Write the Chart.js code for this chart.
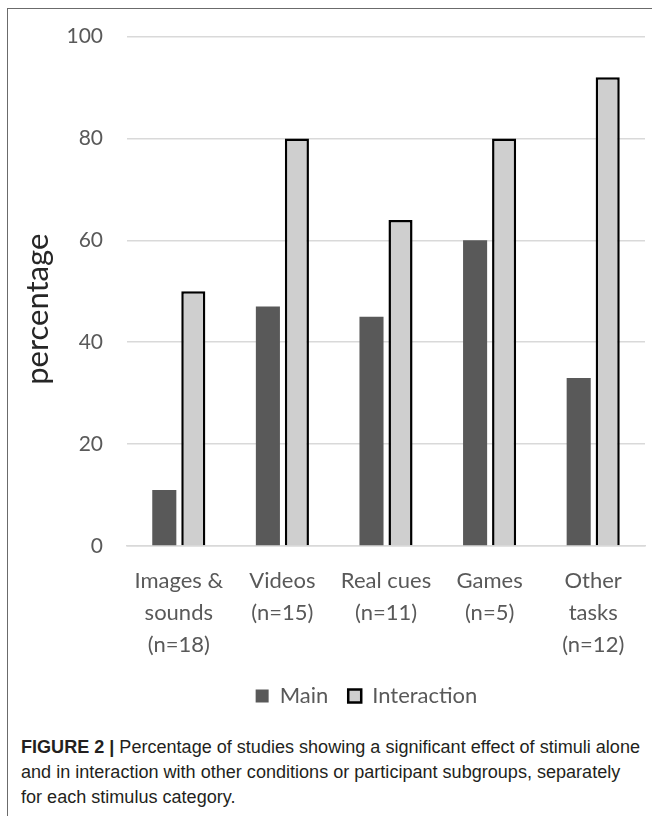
<!DOCTYPE html>
<html>
<head>
<meta charset="utf-8">
<script src="https://cdn.jsdelivr.net/npm/chart.js@4.4.1/dist/chart.umd.min.js"></script>
<style>
  html, body { margin: 0; padding: 0; background: #fff; width: 652px; height: 816px; overflow: hidden; }
  #frame { position: absolute; left: 7px; top: 8px; width: 720px; height: 900px;
           border-left: 1px solid #6b6b6b; border-top: 1px solid #6b6b6b; }
  #chartBox { position: absolute; left: 0; top: 0; width: 652px; height: 720px; }
  #caption { position: absolute; left: 21px; top: 735px; font-family: "Liberation Sans", Arial, sans-serif;
             font-size: 17.5px; line-height: 25px; color: #231f20; white-space: nowrap; transform-origin: 0 0; }
  #caption b { font-weight: bold; }
</style>
</head>
<body>
<div id="frame"></div>
<div id="chartBox"><canvas id="chart" width="652" height="720"></canvas></div>
<div id="caption"><span id="capLine1"><b>FIGURE 2 |</b> Percentage of studies showing a significant effect of stimuli alone</span><br>and in interaction with other conditions or participant subgroups, separately<br>for each stimulus category.</div>

<script>
// Stimulus categories (multi-line axis labels)
const categories = [
  ["Images &", "sounds", "(n=18)"],
  ["Videos", "(n=15)"],
  ["Real cues", "(n=11)"],
  ["Games", "(n=5)"],
  ["Other", "tasks", "(n=12)"]
];
// Percentage of studies with a significant effect
const mainValues = [11, 47, 45, 60, 33];
const interactionValues = [50, 80, 64, 80, 92];
const seriesNames = ["Main", "Interaction"];
const yTickValues = [0, 20, 40, 60, 80, 100];
const yAxisTitle = "percentage";

const labelGrey = "#595959";
const gridGrey = "#d9d9d9";

// Rotated y-axis title, placed a little below the plot's middle
const yTitlePlugin = {
  id: "yTitle",
  afterDraw(chart) {
    const { ctx, chartArea } = chart;
    ctx.save();
    ctx.font = "31px Lato";
    ctx.fillStyle = "#262626";
    ctx.textAlign = "center";
    ctx.textBaseline = "middle";
    ctx.translate(38, (chartArea.top + chartArea.bottom) / 2 + 18);
    ctx.rotate(-Math.PI / 2);
    ctx.fillText(yAxisTitle, 0, 0);
    ctx.restore();
  }
};

// Centre the legend under the bars rather than under the whole canvas
const legendShiftPlugin = {
  id: "legendShift",
  afterLayout(chart) {
    const shift = 44;
    chart.legend.left += shift;
    chart.legend.right += shift;
  }
};

function draw() {
  new Chart(document.getElementById("chart"), {
    type: "bar",
    data: {
      labels: categories,
      datasets: [
        {
          label: seriesNames[0],
          data: mainValues,
          backgroundColor: "#595959",
          borderWidth: 0
        },
        {
          label: seriesNames[1],
          data: interactionValues,
          backgroundColor: "#cfcfcf",
          borderColor: "#000000",
          borderWidth: 2.5
        }
      ]
    },
    options: {
      responsive: false,
      animation: false,
      devicePixelRatio: 1,
      datasets: { bar: { categoryPercentage: 0.56, barPercentage: 0.83 } },
      layout: { padding: { left: 0, right: 7, top: 31, bottom: 3 } },
      scales: {
        x: {
          grid: { display: false, drawTicks: false },
          border: { display: true, color: gridGrey, width: 1.5 },
          ticks: {
            color: labelGrey,
            font: { family: "Lato", size: 22, lineHeight: 1.45 },
            padding: 19,
            maxRotation: 0,
            autoSkip: false
          },
          afterFit(scale) { scale.height = 119; }
        },
        y: {
          min: 0,
          max: 100,
          afterBuildTicks(scale) { scale.ticks = yTickValues.map(v => ({ value: v })); },
          grid: { color: gridGrey, lineWidth: 1.5, drawTicks: false },
          border: { display: false },
          ticks: {
            color: labelGrey,
            font: { family: "Lato", size: 21 },
            padding: 24
          },
          afterFit(scale) { scale.width = 127; }
        }
      },
      plugins: {
        legend: {
          position: "bottom",
          labels: {
            color: labelGrey,
            font: { family: "Lato", size: 22 },
            boxWidth: 13,
            boxHeight: 13,
            padding: 20
          }
        },
        tooltip: { enabled: false }
      }
    },
    plugins: [yTitlePlugin, legendShiftPlugin]
  });

  // Condense the caption so its first line spans the frame width
  const cap = document.getElementById("caption");
  const w = document.getElementById("capLine1").getBoundingClientRect().width;
  cap.style.transform = "scaleX(" + (619 / w) + ")";
}

if (document.fonts && document.fonts.load) {
  Promise.all([
    document.fonts.load("22px Lato"),
    document.fonts.load("17px 'Liberation Sans'")
  ]).then(draw, draw);
} else {
  draw();
}
</script>
</body>
</html>
